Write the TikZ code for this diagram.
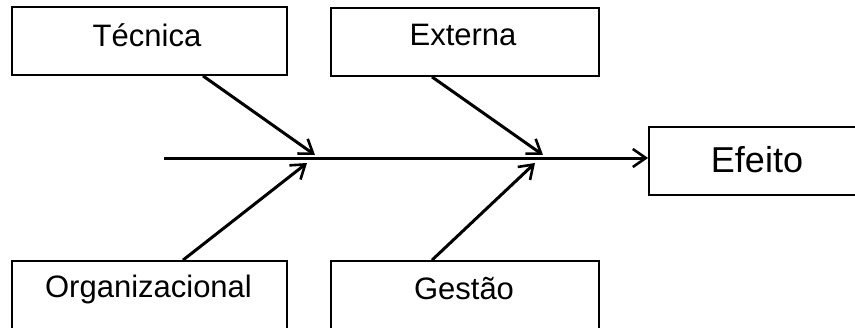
\documentclass[tikz,border=0pt]{standalone}
\usepackage{fontspec}
\setmainfont{Liberation Sans}
\usetikzlibrary{arrows.meta,calc}
\begin{document}
\begin{tikzpicture}[x=1pt,y=-1pt,
  box/.style={draw=black,line width=1.8pt,fill=white,rectangle,minimum width=#1,minimum height=68pt,inner sep=0pt},
  lbl/.style={font=\fontsize{31}{31}\selectfont,inner sep=0pt,anchor=center},
  arr/.style={line width=3pt,-{Straight Barb[length=13pt,width=18pt,line width=2.6pt]}}]
\useasboundingbox (0,0) rectangle (855,327);
\clip (0,0) rectangle (855,327);
\fill[white] (0,0) rectangle (855,327);
% boxes
\node[box=275pt] (tec) at (149.5,41) {};
\node[box=268pt] (ext) at (465,42) {};
\node[box=275pt] (org) at (149.5,295) {};
\node[box=268pt] (ges) at (465,295) {};
\node[box=230pt] (eff) at (764,161) {};
% labels
\node[lbl] (tecl) at (147,35) {Técnica};
\node[lbl] (extl) at (463,35) {Externa};
\node[lbl] (orgl) at (148.5,289) {Organizacional};
\node[lbl] (gesl) at (464,289) {Gestão};
\node[lbl,font=\fontsize{36}{36}\selectfont] (effl) at (757,160) {Efeito};
% spine
\coordinate (s) at (164,158);
\draw[arr] (s) -- (s -| eff.west);
% branch points
\coordinate (t0) at ($(tec.south)+(53.5,0)$);
\coordinate (t1) at (315,155);
\coordinate (o0) at ($(org.north)+(33.5,0)$);
\coordinate (o1) at (307,163);
\coordinate (e0) at ($(ext.south)+(-33,0)$);
\coordinate (e1) at (543,155);
\coordinate (g0) at ($(ges.north)+(-33,0)$);
\coordinate (g1) at (535,163);
\draw[arr] (t0) -- (t1);
\draw[arr] (o0) -- (o1);
\draw[arr] (e0) -- (e1);
\draw[arr] (g0) -- (g1);
\end{tikzpicture}
\end{document}
